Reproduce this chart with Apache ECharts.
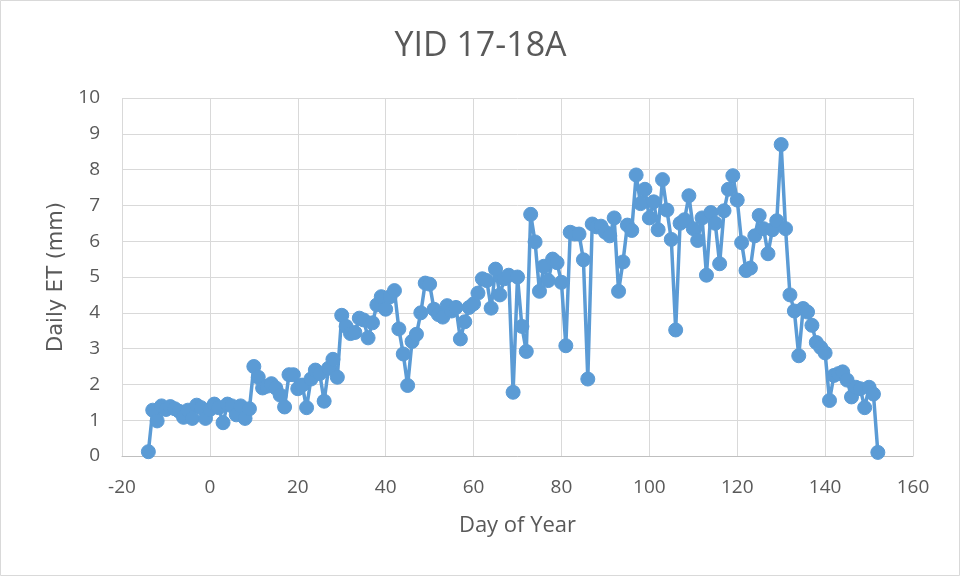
<!DOCTYPE html>
<html>
<head>
<meta charset="utf-8">
<script src="https://cdn.jsdelivr.net/npm/echarts@6/dist/echarts.min.js"></script>
<style>
  html, body { margin: 0; padding: 0; background: #fff; }
  #chart { width: 961px; height: 577px; }
</style>
</head>
<body>
<div id="chart"></div>
<script>
// Daily evapotranspiration record, one reading per day starting at day -14
const firstDay = -14;
const dailyET = [
  0.12, 1.28, 0.98, 1.40, 1.30, 1.38, 1.32, 1.25, 1.08, 1.28,   // -14 .. -5
  1.05, 1.42, 1.35, 1.05, 1.30, 1.45, 1.35, 0.93, 1.45, 1.40,   // -4 .. 5
  1.15, 1.40, 1.05, 1.32, 2.50, 2.20, 1.90, 1.95, 2.02, 1.90,   // 6 .. 15
  1.70, 1.37, 2.27, 2.27, 1.88, 1.98, 1.35, 2.15, 2.40, 2.30,   // 16 .. 25
  1.53, 2.45, 2.70, 2.20, 3.93, 3.62, 3.42, 3.45, 3.85, 3.80,   // 26 .. 35
  3.30, 3.72, 4.22, 4.45, 4.10, 4.45, 4.62, 3.55, 2.85, 1.97,   // 36 .. 45
  3.20, 3.40, 4.00, 4.83, 4.80, 4.10, 3.95, 3.88, 4.20, 4.05,   // 46 .. 55
  4.15, 3.27, 3.75, 4.15, 4.25, 4.55, 4.95, 4.90, 4.13, 5.22,   // 56 .. 65
  4.50, 4.95, 5.05, 1.78, 5.00, 3.62, 2.92, 6.75, 5.98, 4.60,   // 66 .. 75
  5.30, 4.90, 5.50, 5.40, 4.85, 3.08, 6.25, 6.20, 6.20, 5.48,   // 76 .. 85
  2.15, 6.48, 6.40, 6.42, 6.25, 6.15, 6.65, 4.60, 5.42, 6.45,   // 86 .. 95
  6.30, 7.85, 7.05, 7.45, 6.65, 7.10, 6.32, 7.72, 6.87, 6.05,   // 96 .. 105
  3.52, 6.50, 6.60, 7.27, 6.35, 6.02, 6.65, 5.05, 6.80, 6.50,   // 106 .. 115
  5.37, 6.85, 7.45, 7.83, 7.15, 5.96, 5.18, 5.25, 6.15, 6.72,   // 116 .. 125
  6.35, 5.65, 6.32, 6.57, 8.70, 6.35, 4.50, 4.05, 2.80, 4.12,   // 126 .. 135
  4.02, 3.65, 3.17, 3.03, 2.88, 1.55, 2.25, 2.30, 2.35, 2.12,   // 136 .. 145
  1.65, 1.92, 1.88, 1.35, 1.92, 1.73, 0.10                      // 146 .. 152
];

const chartTitle = 'YID 17-18A';
const xAxisName = 'Day of Year';
const yAxisName = 'Daily ET (mm)';

const points = dailyET.map((v, i) => [firstDay + i, v]);

const textColor = '#595959';
const gridColor = '#D9D9D9';
const lineColor = '#5B9BD5';
const font = '"Open Sans", Lato, sans-serif';

const chart = echarts.init(document.getElementById('chart'), null, { renderer: 'canvas' });
chart.setOption({
  animation: false,
  backgroundColor: '#ffffff',
  graphic: [{
    type: 'rect',
    shape: { x: 0.5, y: 0.5, width: 959, height: 575 },
    style: { fill: 'none', stroke: '#D9D9D9', lineWidth: 1 },
    silent: true
  }],
  title: {
    text: chartTitle,
    left: 'center',
    top: 24,
    textStyle: { fontFamily: font, fontSize: 34, fontWeight: 'normal', color: textColor }
  },
  grid: { left: 122, right: 48, top: 98, bottom: 121, containLabel: false },
  xAxis: {
    type: 'value',
    min: -20, max: 160, interval: 20,
    name: xAxisName,
    nameLocation: 'middle',
    nameGap: 59,
    nameTextStyle: { fontFamily: font, fontSize: 22, color: textColor },
    axisLine: { show: true, onZero: false, lineStyle: { color: '#BFBFBF', width: 1 } },
    axisTick: { show: false },
    axisLabel: { fontFamily: font, fontSize: 19, color: textColor, margin: 22 },
    splitLine: { show: true, lineStyle: { color: gridColor, width: 1 } }
  },
  yAxis: {
    type: 'value',
    min: 0, max: 10, interval: 1,
    name: yAxisName,
    nameLocation: 'middle',
    nameGap: 47,
    nameRotate: 90,
    nameTextStyle: { fontFamily: '"DejaVu Sans", sans-serif', fontSize: 21, color: textColor },
    axisLine: { show: false },
    axisTick: { show: false },
    axisLabel: { fontFamily: font, fontSize: 19, color: textColor, margin: 22 },
    splitLine: { show: true, lineStyle: { color: gridColor, width: 1 } }
  },
  series: [{
    type: 'line',
    data: points,
    symbol: 'circle',
    symbolSize: 14,
    showAllSymbol: true,
    lineStyle: { color: lineColor, width: 3.5 },
    itemStyle: { color: lineColor, borderColor: lineColor },
    z: 3
  }]
});
</script>
</body>
</html>
